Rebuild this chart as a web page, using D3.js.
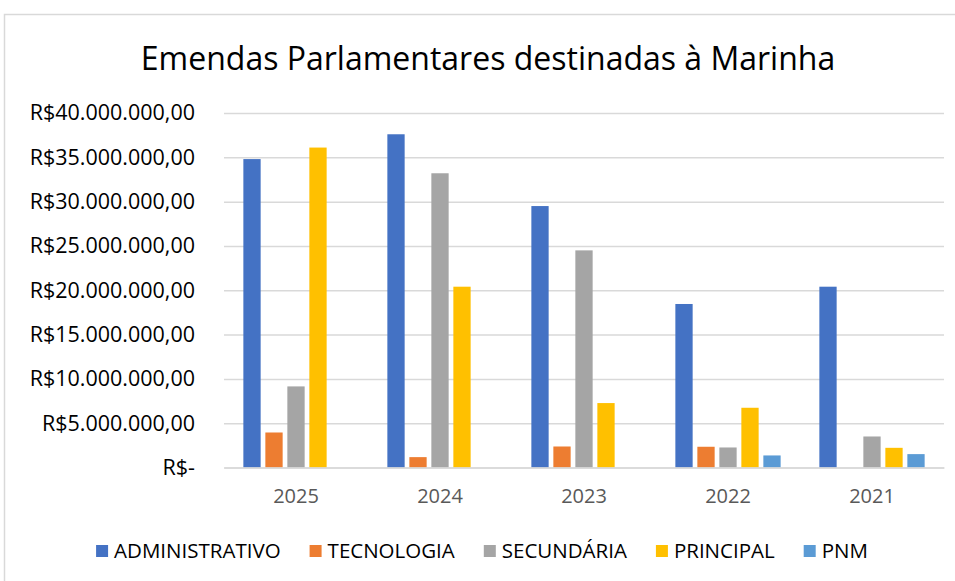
<!DOCTYPE html>
<html>
<head>
<meta charset="utf-8">
<script src="https://cdn.jsdelivr.net/npm/d3@7"></script>
<style>
  body { margin: 0; background: #fff; }
  svg { display: block; font-family: "Open Sans", sans-serif; }
</style>
</head>
<body>
<div class="chart"></div>
<script>
// Data (values in R$)
var years = ["2025", "2024", "2023", "2022", "2021"];
var seriesNames = ["ADMINISTRATIVO", "TECNOLOGIA", "SECUNDÁRIA", "PRINCIPAL", "PNM"];
var seriesColors = ["#4472C4", "#ED7D31", "#A5A5A5", "#FFC000", "#5B9BD5"];

var administrativo = [34800000, 37600000, 29500000, 18450000, 20400000];
var tecnologia = [3950000, 1170000, 2370000, 2340000, 0];
var secundaria = [9150000, 33200000, 24500000, 2260000, 3500000];
var principal = [36100000, 20400000, 7270000, 6740000, 2220000];
var pnm = [0, 0, 0, 1360000, 1510000];

var yTicks = [0, 5000000, 10000000, 15000000, 20000000, 25000000, 30000000, 35000000, 40000000];

var seriesValues = [administrativo, tecnologia, secundaria, principal, pnm];

var svgWidth = 955;
var svgHeight = 581;
var margin = { top: 113, right: 11, bottom: 113.5, left: 224 };
var width = svgWidth - margin.left - margin.right;
var height = svgHeight - margin.top - margin.bottom;

var svg = d3
    .select(".chart")
    .append("svg")
    .attr("width", svgWidth)
    .attr("height", svgHeight);

// chart area border
svg.append("rect")
    .attr("x", 4.5)
    .attr("y", 14.5)
    .attr("width", 980)
    .attr("height", 600)
    .attr("fill", "#fff")
    .attr("stroke", "#D9D9D9")
    .attr("stroke-width", 1.5);

// title
svg.append("text")
    .attr("x", 488)
    .attr("y", 70)
    .attr("text-anchor", "middle")
    .style("font-size", "32px")
    .style("fill", "#000")
    .text("Emendas Parlamentares destinadas à Marinha");

var chart = svg.append("g")
    .attr("transform", "translate(" + margin.left + "," + margin.top + ")");

// Scales
var x0 = d3.scaleBand().domain(years).range([0, width]);
var x1 = d3.scaleBand()
    .domain(seriesNames)
    .range([0, x0.bandwidth()])
    .paddingInner(0.214)
    .paddingOuter(0.88);
var y = d3.scaleLinear().domain([0, 40000000]).range([height, 0]);

var ptBR = d3.formatLocale({
    decimal: ",",
    thousands: ".",
    grouping: [3],
    currency: ["R$", ""]
});
var money = ptBR.format("$,.2f");

// gridlines
chart.append("g")
    .attr("class", "grid")
    .call(d3.axisLeft(y).tickValues(yTicks).tickSize(-width).tickFormat(""))
    .call(function (g) { g.select(".domain").remove(); })
    .selectAll("line")
    .attr("stroke", "#D9D9D9")
    .attr("stroke-width", 1.5);

// y-axis labels
chart.append("g")
    .attr("class", "y-axis")
    .attr("transform", "translate(-29,0)")
    .call(d3.axisLeft(y).tickValues(yTicks).tickSize(0).tickPadding(0)
        .tickFormat(function (d) { return d === 0 ? "R$-" : money(d); }))
    .call(function (g) { g.select(".domain").remove(); })
    .selectAll("text")
    .style("font-family", "Open Sans, sans-serif")
    .style("font-size", "21.5px")
    .style("fill", "#000");

// bars
var groups = chart.selectAll(".year")
    .data(years)
    .enter()
    .append("g")
    .attr("class", "year")
    .attr("transform", function (d) { return "translate(" + x0(d) + ",0)"; });

groups.selectAll("rect")
    .data(function (d, i) {
        return seriesNames.map(function (s, j) {
            return { name: s, value: seriesValues[j][i], color: seriesColors[j] };
        });
    })
    .enter()
    .append("rect")
    .attr("x", function (d) { return x1(d.name); })
    .attr("width", x1.bandwidth())
    .attr("y", function (d) { return y(d.value); })
    .attr("height", function (d) { return height - y(d.value); })
    .attr("fill", function (d) { return d.color; });

// x-axis
chart.append("g")
    .attr("class", "x-axis")
    .attr("transform", "translate(0," + height + ")")
    .call(d3.axisBottom(x0).tickSize(0).tickPadding(21))
    .call(function (g) {
        g.select(".domain").attr("stroke", "#D9D9D9").attr("stroke-width", 1.5);
    })
    .selectAll("text")
    .style("font-family", "Open Sans, sans-serif")
    .style("font-size", "20px")
    .style("fill", "#595959");

// legend
var legend = svg.append("g").attr("class", "legend");
var lx = 0;
seriesNames.forEach(function (name, i) {
    var item = legend.append("g").attr("transform", "translate(" + lx + ",0)");
    item.append("rect")
        .attr("x", 0)
        .attr("y", -13)
        .attr("width", 12)
        .attr("height", 12)
        .attr("fill", seriesColors[i]);
    var t = item.append("text")
        .attr("x", 18)
        .attr("y", 0)
        .style("font-size", "20.5px")
        .style("fill", "#000")
        .text(name);
    lx += 18 + t.node().getComputedTextLength() + 29;
});
var legendWidth = lx - 29;
legend.attr("transform", "translate(" + (482 - legendWidth / 2) + ",558)");
</script>
</body>
</html>
